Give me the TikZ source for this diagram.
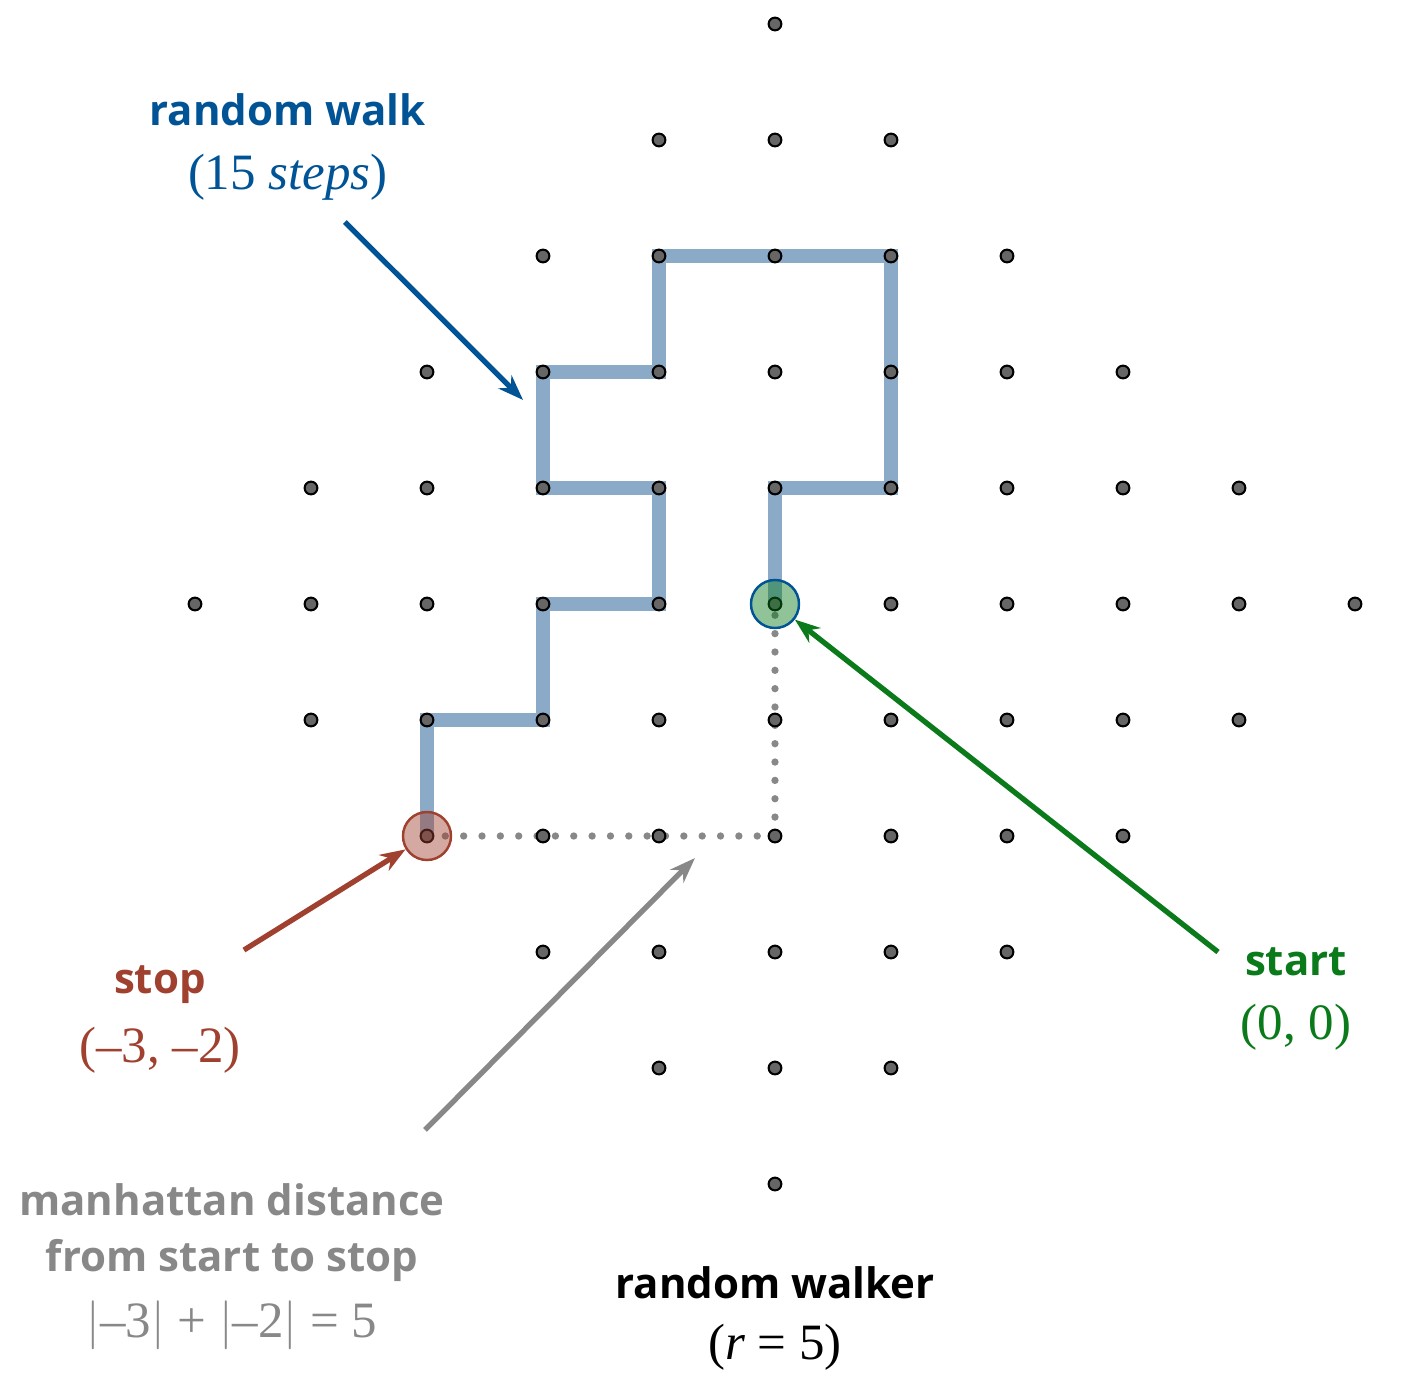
\documentclass[tikz,border=0pt]{standalone}
\usepackage{fontspec}
\usetikzlibrary{arrows.meta}
\setmainfont{Liberation Serif}
\newfontfamily\lab{Open Sans}
\begin{document}
\begin{tikzpicture}[x=1cm,y=1cm,
 lbl/.style={font=\lab\bfseries\fontsize{10.3}{12}\selectfont},
 sub/.style={font=\fontsize{12.5}{15}\selectfont},
 dot/.style={circle,fill=black!60,draw=black,line width=0.5pt,inner sep=0pt,minimum size=0.11cm},
 arr/.style={-{Stealth[length=0.22cm,width=0.16cm]},line width=1.3pt}]
\useasboundingbox (-6.681,-6.621) rectangle (5.543,5.207);
\definecolor{wblue}{RGB}{138,170,200}
\definecolor{dblue}{RGB}{0,84,150}
\definecolor{dred}{RGB}{160,64,47}
\definecolor{dgreen}{RGB}{10,122,26}
\definecolor{gr}{RGB}{136,136,136}
\draw[wblue,line width=3.4pt,line join=miter] (0,0)--(0,1)--(1,1)--(1,3)--(-1,3)--(-1,2)--(-2,2)--(-2,1)--(-1,1)--(-1,0)--(-2,0)--(-2,-1)--(-3,-1)--(-3,-2);
\draw[gr,line width=1.8pt,line cap=round,dash pattern=on 0pt off 4.5pt] (-3,-2)--(0,-2)--(0,0);
\foreach \i in {-5,...,5}{
 \pgfmathtruncatemacro{\m}{5-abs(\i)}
 \foreach \j in {-\m,...,\m}{\node[dot] at (\i,\j) {};}}
\node[circle,minimum size=0.414cm,draw=dblue,fill=dgreen,fill opacity=0.45,line width=0.6pt] (st) at (0,0) {};
\node[circle,minimum size=0.414cm,draw=dred,fill=dred,fill opacity=0.45,line width=0.6pt] (sp) at (-3,-2) {};
\node[lbl,text=dblue] (rw) at (-4.2,4.259) {random walk};
\node[sub,text=dblue] (rw2) at (-4.2,3.681) {(15 \textit{steps})};
\coordinate (rwa) at (-3.707,3.293); \coordinate (rwb) at (-2.172,1.759);
\draw[arr,dblue] (rwa)--(rwb);
\node[lbl,text=dred] (sl) at (-5.302,-3.284) {stop};
\node[sub,text=dred] (sl2) at (-5.302,-3.845) {(–3, –2)};
\coordinate (spa) at (-4.578,-2.983);
\draw[arr,dred] (spa)--(sp);
\node[lbl,text=dgreen] (sa) at (4.491,-3.086) {start};
\node[sub,text=dgreen] (sa2) at (4.491,-3.647) {(0, 0)};
\coordinate (sta) at (3.819,-3.0);
\draw[arr,dgreen] (sta)--(st);
\coordinate (ga) at (-3.017,-4.534); \coordinate (gb) at (-0.69,-2.19);
\draw[arr,gr] (ga)--(gb);
\node[lbl,text=gr] (m1) at (-4.681,-5.138) {manhattan distance};
\node[lbl,text=gr] (m2) at (-4.681,-5.655) {from start to stop};
\node[sub,text=gr] (m3) at (-4.681,-6.216) {$|$–3$|$ + $|$–2$|$ = 5};
\node[lbl] (t1) at (0,-5.853) {random walker};
\node[sub] (t2) at (0,-6.405) {(\textit{r} = 5)};
\end{tikzpicture}
\end{document}
